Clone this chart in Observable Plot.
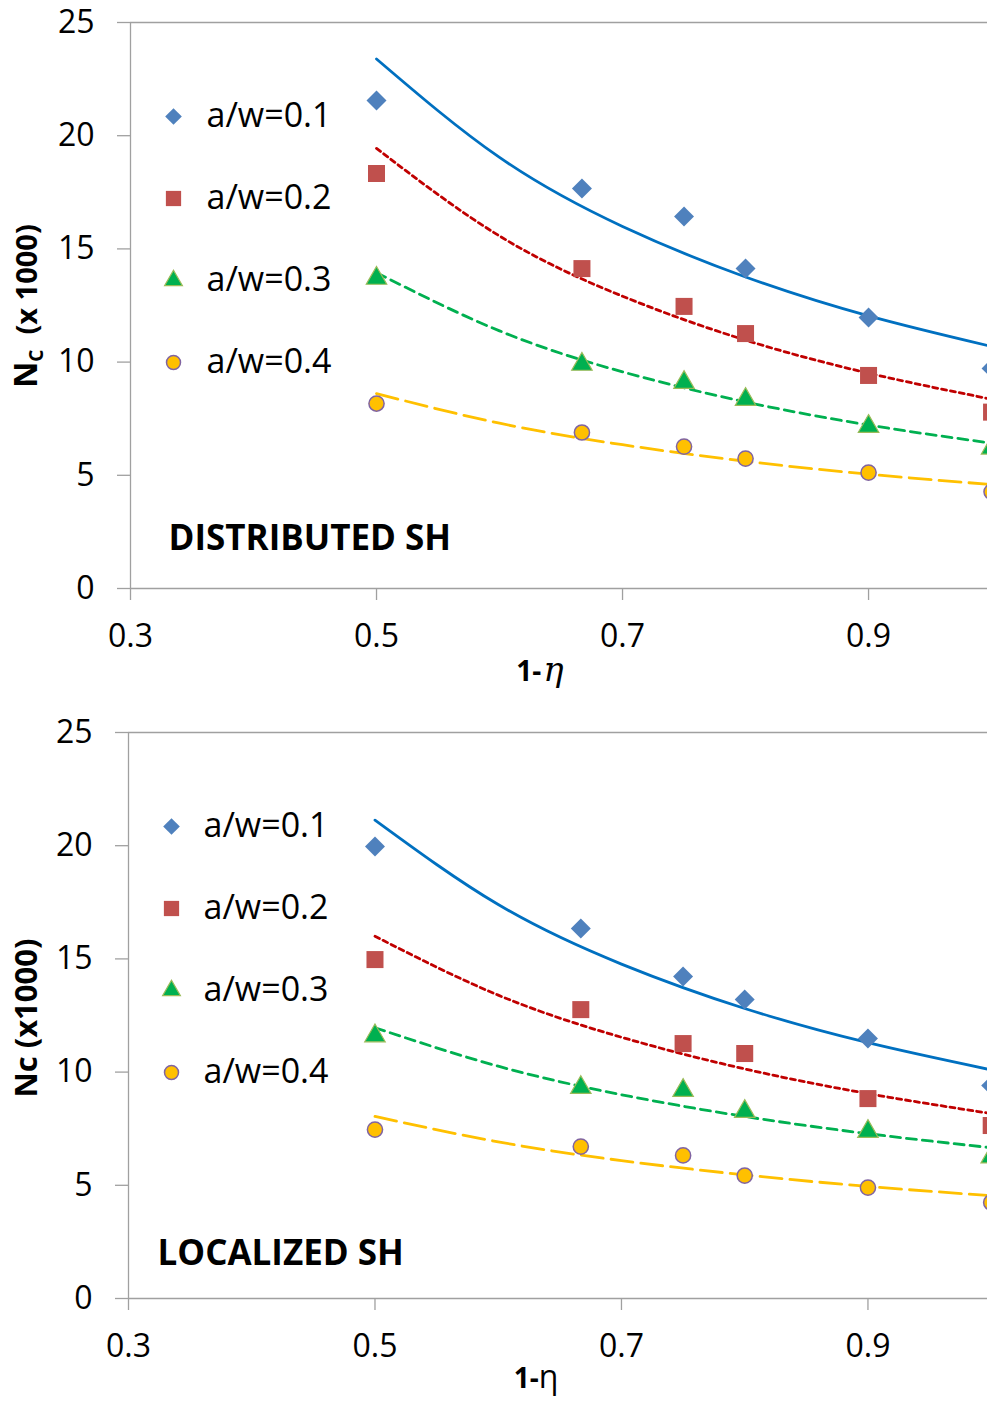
<!DOCTYPE html>
<html>
<head>
<meta charset="utf-8">
<script src="https://cdn.jsdelivr.net/npm/d3@7"></script>
<script src="https://cdn.jsdelivr.net/npm/@observablehq/plot@0.6"></script>
<style>
  html, body { margin: 0; padding: 0; background: #fff; }
  #wrap { position: relative; width: 987px; height: 1405px; overflow: hidden; font-family: "Open Sans", sans-serif; }
  #wrap svg { display: block; }
</style>
</head>
<body>
<div id="wrap"></div>
<script>
// ---------- data ----------
const series = ["a/w=0.1", "a/w=0.2", "a/w=0.3", "a/w=0.4"];
const xValues = [0.5, 0.667, 0.75, 0.8, 0.9, 1.0];   // 1-η of the tests
const xTicks = [0.3, 0.5, 0.7, 0.9];
const yTicks = [0, 5, 10, 15, 20, 25];

// DISTRIBUTED SH : Nc (x1000)
const distAW01 = [21.55, 17.67, 16.43, 14.13, 11.97, 9.72];
const distAW02 = [18.33, 14.13, 12.46, 11.26, 9.41, 7.79];
const distAW03 = [13.70, 9.90, 9.10, 8.35, 7.16, 6.20];
const distAW04 = [8.17, 6.89, 6.27, 5.74, 5.12, 4.27];

// LOCALIZED SH : Nc (x1000)
const locAW01 = [19.96, 16.34, 14.22, 13.21, 11.48, 9.41];
const locAW02 = [14.97, 12.76, 11.26, 10.82, 8.83, 7.64];
const locAW03 = [11.60, 9.32, 9.19, 8.26, 7.38, 6.25];
const locAW04 = [7.46, 6.71, 6.32, 5.43, 4.90, 4.24];

// trend lines
const trendX = [0.5, 0.6, 0.7, 0.8, 0.9, 1.0];
const distTrend01 = [23.39, 19.04, 15.99, 13.76, 12.04, 10.69];
const distTrend02 = [19.44, 15.57, 12.91, 10.97, 9.51, 8.36];
const distTrend03 = [13.95, 11.38, 9.57, 8.24, 7.22, 6.42];
const distTrend04 = [8.61, 7.30, 6.35, 5.62, 5.05, 4.59];
const locTrend01 = [21.13, 17.40, 14.77, 12.81, 11.30, 10.10];
const locTrend02 = [16.00, 13.40, 11.54, 10.14, 9.05, 8.17];
const locTrend03 = [11.96, 10.26, 9.00, 8.04, 7.28, 6.66];
const locTrend04 = [8.04, 6.92, 6.09, 5.46, 4.95, 4.54];

// ---------- styles ----------
const symbols = ["diamond2", "square", "triangle", "circle"];
const markerFill = ["#4F81BD", "#C0504D", "#00B050", "#FFC000"];
const markerStroke = ["#4F81BD", "#C0504D", "#9BBB59", "#8064A2"];
const markerStrokeW = [0, 0, 1.2, 1.5];
const markerR = [9, 9.6, 7.6, 7.6];
const legendR = [7.5, 8.6, 6.6, 7];
const lineColor = ["#0070C0", "#C00000", "#00B050", "#FFC000"];
const lineDash = [null, "5,4", "10,6", "22,8"];
const axisGray = "#a0a0a0";

function panel(cfg) {
  const {vals, trends, title, titleDx, titleDy, height, mt, mb, ml, xmax, legDx, legTx} = cfg;
  const marks = [];
  marks.push(Plot.ruleY([0, 25], {stroke: axisGray, strokeWidth: 1.3}));
  marks.push(Plot.ruleX([0.3], {stroke: axisGray, strokeWidth: 1.3}));
  marks.push(Plot.axisY({ticks: yTicks, tickSize: 13, tickPadding: 23, stroke: axisGray, strokeWidth: 1.3,
    fill: "#000", fontSize: 32, label: null, tickFormat: d => String(d)}));
  marks.push(Plot.axisX({ticks: xTicks, tickSize: 12, tickPadding: 24, stroke: axisGray, strokeWidth: 1.3,
    fill: "#000", fontSize: 32, label: null, tickFormat: d => d.toFixed(1)}));
  for (let i = 0; i < 4; i++) {
    marks.push(Plot.line(trendX.map((x, j) => ({x, y: trends[i][j]})), {
      x: "x", y: "y", curve: "natural", stroke: lineColor[i], strokeWidth: 2.8,
      strokeDasharray: lineDash[i] || undefined
    }));
  }
  for (let i = 0; i < 4; i++) {
    marks.push(Plot.dot(xValues.map((x, j) => ({x, y: vals[i][j]})), {
      x: "x", y: "y", symbol: symbols[i], r: markerR[i], fill: markerFill[i],
      stroke: markerStroke[i], strokeWidth: markerStrokeW[i]
    }));
  }
  for (let i = 0; i < 4; i++) {
    marks.push(Plot.dot([series[i]], {
      frameAnchor: "top-left", dx: legDx, dy: 94 + 82 * i, symbol: symbols[i], r: legendR[i],
      fill: markerFill[i], stroke: markerStroke[i], strokeWidth: markerStrokeW[i]
    }));
    marks.push(Plot.text([series[i]], {
      frameAnchor: "top-left", dx: legTx, dy: 94 + 82 * i, text: d => d, textAnchor: "start",
      lineAnchor: "middle", fontSize: 34, fill: "#000"
    }));
  }
  marks.push(Plot.text([title], {
    frameAnchor: "bottom-left", dx: titleDx, dy: titleDy, text: d => d, textAnchor: "start",
    lineAnchor: "middle", fontSize: 35, fontWeight: "bold", fill: "#000"
  }));
  return Plot.plot({
    width: 987, height, marginTop: mt, marginBottom: mb, marginLeft: ml, marginRight: 0,
    style: {fontFamily: "Open Sans, sans-serif", background: "#fff", overflow: "visible"},
    x: {domain: [0.3, xmax], axis: null},
    y: {domain: [0, 25], axis: null},
    marks
  });
}

const wrap = document.getElementById("wrap");

const topPanel = panel({
  vals: [distAW01, distAW02, distAW03, distAW04],
  trends: [distTrend01, distTrend02, distTrend03, distTrend04],
  title: "DISTRIBUTED SH", titleDx: 38, titleDy: -50,
  height: 705, mt: 22, mb: 117, ml: 130, xmax: 0.9967, legDx: 43, legTx: 76
});
wrap.appendChild(topPanel);

const bottomPanel = panel({
  vals: [locAW01, locAW02, locAW03, locAW04],
  trends: [locTrend01, locTrend02, locTrend03, locTrend04],
  title: "LOCALIZED SH", titleDx: 29, titleDy: -45,
  height: 700, mt: 27, mb: 107, ml: 128, xmax: 0.997, legDx: 43, legTx: 75
});
wrap.appendChild(bottomPanel);

// ---------- axis titles ----------
function yTitle(svg, cy, parts) {
  const t = d3.select(svg).append("text")
    .attr("transform", `translate(37,${cy}) rotate(-90)`)
    .attr("text-anchor", "middle")
    .attr("font-family", "Open Sans, sans-serif")
    .attr("font-weight", "bold")
    .attr("fill", "#000");
  parts.forEach(p => {
    const s = t.append("tspan").text(p.t).attr("font-size", p.size);
    if (p.dy) s.attr("dy", p.dy);
  });
}
yTitle(topPanel, 306, [
  {t: "N", size: 32},
  {t: "C", size: 19, dy: 6},
  {t: "  (x 1000)", size: 29, dy: -6}
]);
yTitle(bottomPanel, 313, [
  {t: "Nc (x1000)", size: 31}
]);

function xTitle(svg, cx, by, etaItalic) {
  const t = d3.select(svg).append("text")
    .attr("x", cx).attr("y", by)
    .attr("text-anchor", "middle")
    .attr("fill", "#000");
  t.append("tspan").text("1-").attr("font-family", "Open Sans, sans-serif").attr("font-weight", "bold").attr("font-size", 28);
  const e = t.append("tspan").text("η");
  if (etaItalic) e.attr("font-family", "DejaVu Serif, serif").attr("font-style", "italic").attr("font-size", 34).attr("dx", 2);
  else e.attr("font-family", "Open Sans, sans-serif").attr("font-size", 32);
}
xTitle(topPanel, 540, 681, true);
xTitle(bottomPanel, 536, 683, false);
</script>
</body>
</html>
